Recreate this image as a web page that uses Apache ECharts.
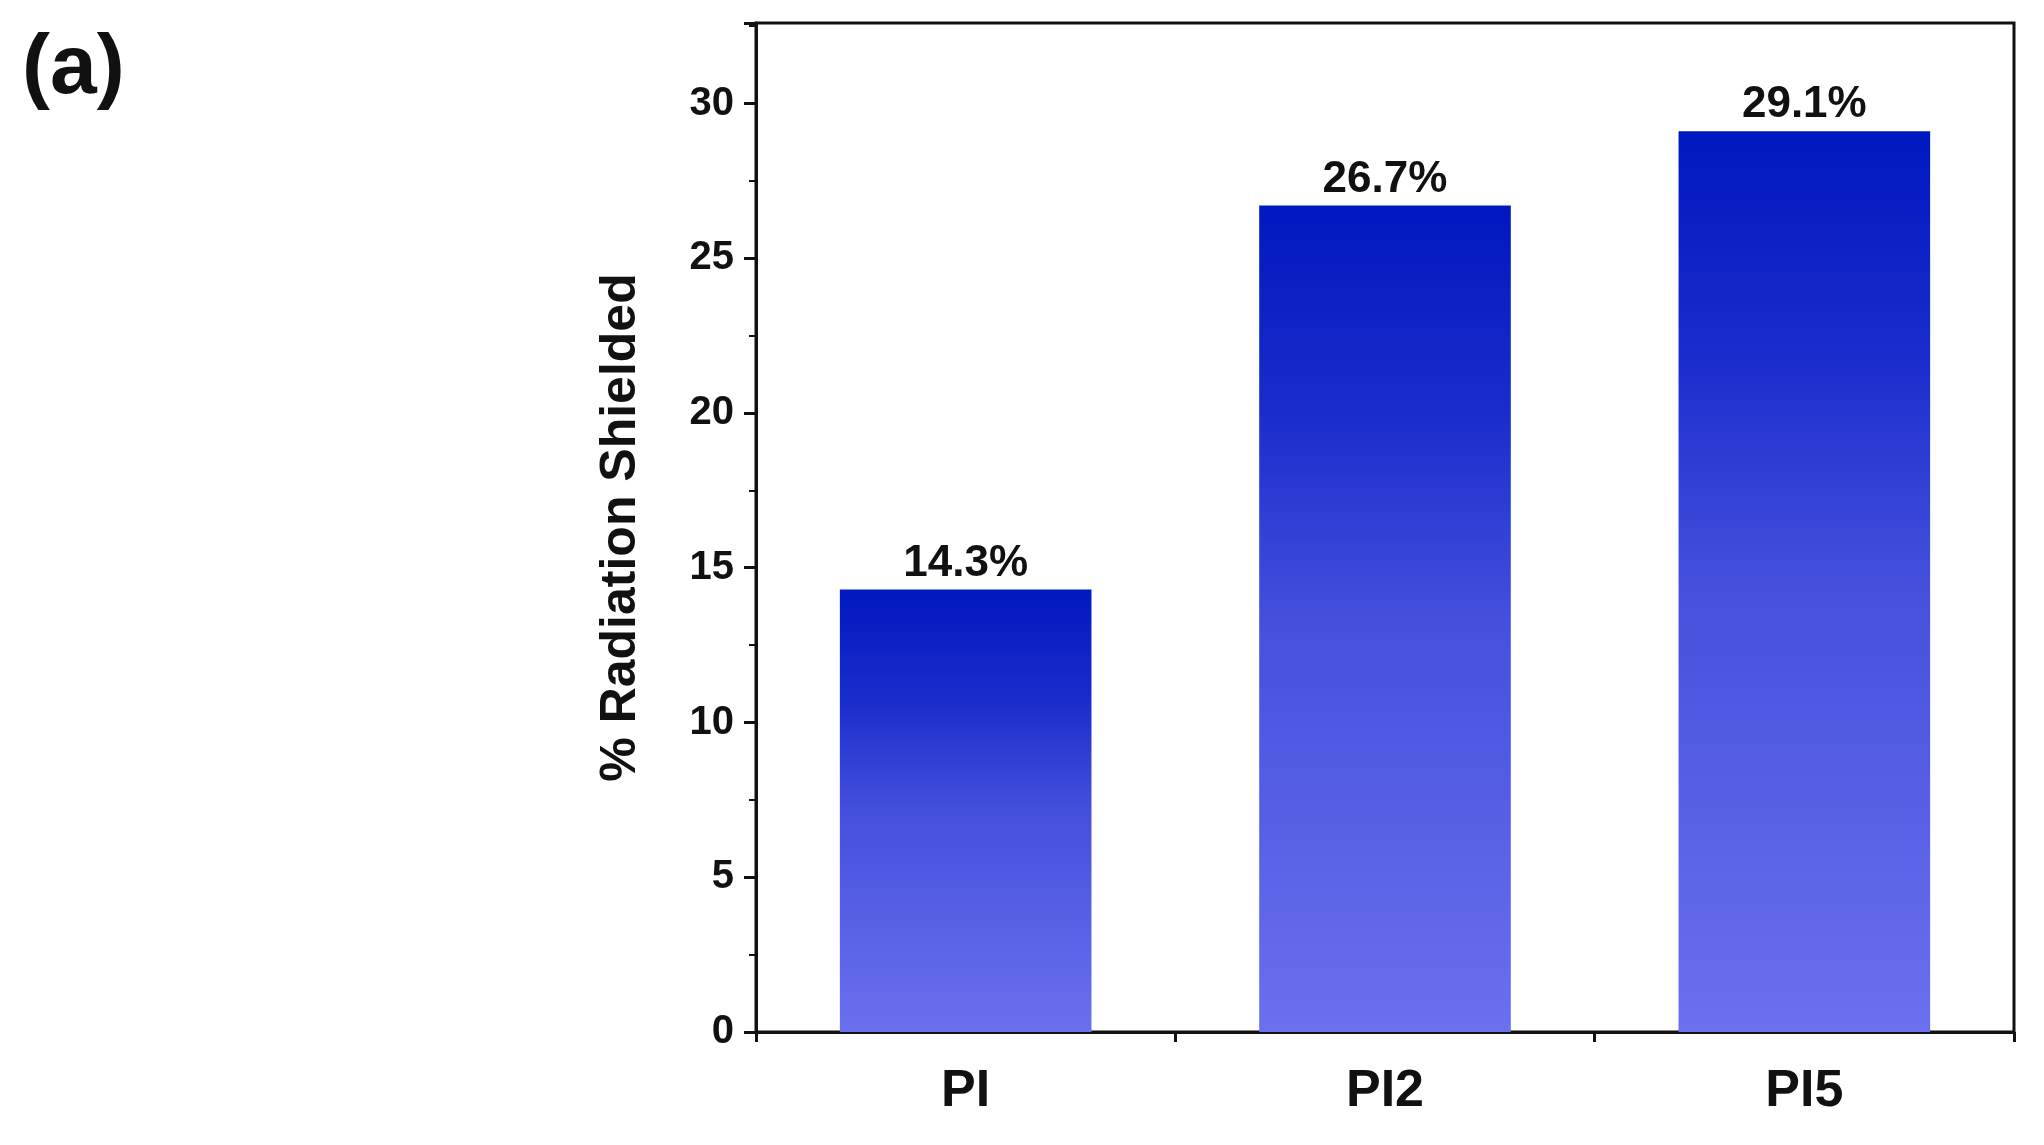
<!DOCTYPE html>
<html><head><meta charset="utf-8">
<script src="https://cdn.jsdelivr.net/npm/echarts@6/dist/echarts.min.js"></script>
<style>html,body{margin:0;padding:0;background:#fff}#c{width:2044px;height:1145px}</style>
</head><body><div id="c"></div>
<script>
const categories = ['PI', 'PI2', 'PI5'];
const values = [14.3, 26.7, 29.1];
const yTicks = [0, 5, 10, 15, 20, 25, 30];
const chart = echarts.init(document.getElementById('c'));
chart.setOption({
  backgroundColor: '#fff',
  graphic: [{type: 'text', left: 22, top: 28, style: {text: '(a)', font: 'bold 84px Arial, "Liberation Sans"', fill: '#111'}}],
  grid: {left: 756, right: 30, top: 23, bottom: 113, show: true, borderColor: '#111', borderWidth: 3},
  xAxis: {type: 'category', data: categories,
    axisLine: {lineStyle: {color: '#111', width: 3}},
    axisTick: {show: true, inside: false, length: 10, lineStyle: {width: 3, color: '#111'}},
    axisLabel: {color: '#111', fontSize: 52, fontWeight: 'bold', fontFamily: 'Arial, "Liberation Sans"', margin: 34}},
  yAxis: {type: 'value', min: 0, max: 32.6, interval: 5,
    name: '% Radiation Shielded', nameLocation: 'middle', nameGap: 110,
    nameTextStyle: {color: '#111', fontSize: 50, fontWeight: 'bold', fontFamily: 'Arial, "Liberation Sans"'},
    axisLine: {show: true, lineStyle: {color: '#111', width: 3}},
    axisTick: {show: true, length: 12, lineStyle: {width: 3, color: '#111'}},
    minorTick: {show: true, splitNumber: 2, length: 7, lineStyle: {width: 2, color: '#111'}},
    splitLine: {show: false},
    axisLabel: {color: '#111', fontSize: 40, fontWeight: 'bold', fontFamily: 'Arial, "Liberation Sans"', margin: 22,
      formatter: v => yTicks.includes(v) ? String(v) : ''}},
  series: [{type: 'bar', data: values, barWidth: '60%',
    itemStyle: {color: new echarts.graphic.LinearGradient(0, 0, 0, 1, [
      {offset: 0, color: '#0018c0'}, {offset: 0.25, color: '#1a2ccc'}, {offset: 0.5, color: '#4450dc'}, {offset: 1, color: '#6a70ee'}])},
    label: {show: true, position: 'top', distance: 4, formatter: p => p.value + '%',
      color: '#111', fontSize: 44, fontWeight: 'bold', fontFamily: 'Arial, "Liberation Sans"'}}]
});
</script></body></html>
